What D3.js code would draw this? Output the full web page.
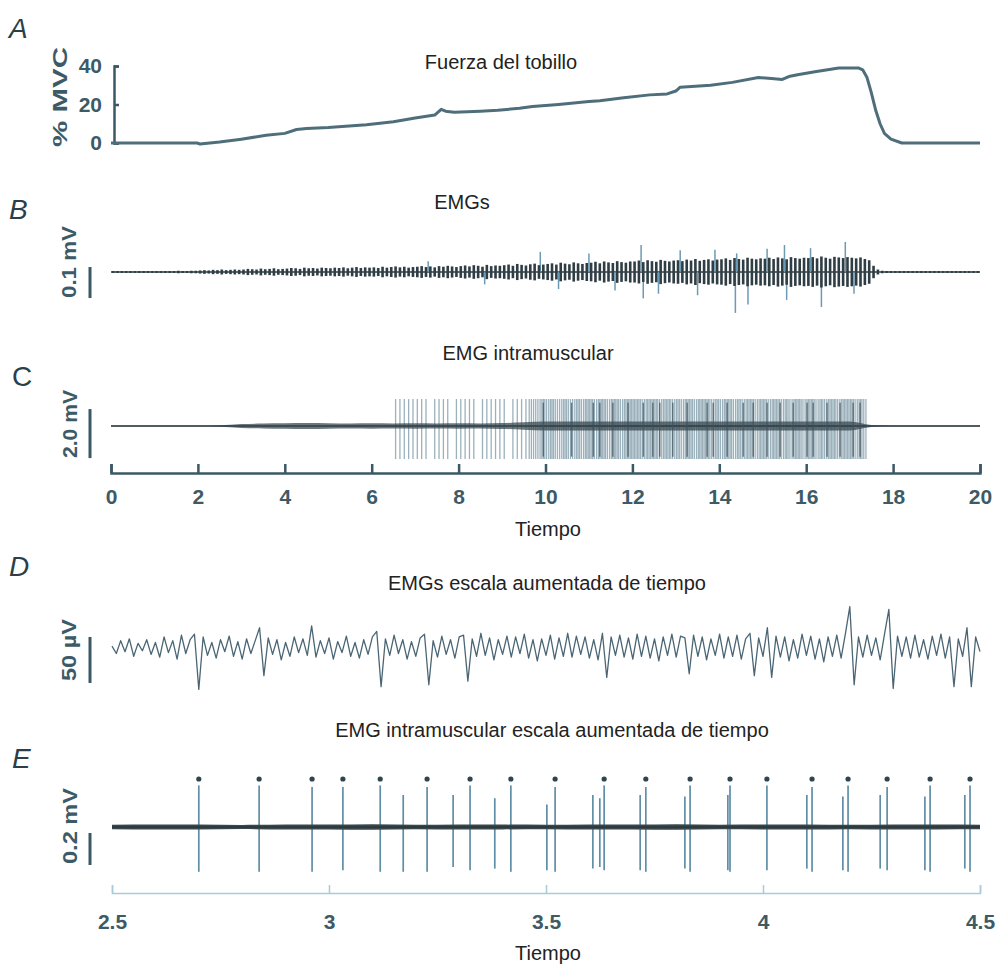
<!DOCTYPE html>
<html>
<head>
<meta charset="utf-8">
<script src="https://cdn.jsdelivr.net/npm/d3@7"></script>
<style>
	body { margin: 0; background: #fff; }
	svg { display: block; font-family: "Liberation Sans", Arial, Helvetica, sans-serif; }
</style>
</head>
<body>
<svg id="chart" width="1002" height="966"></svg>
<script>

/***************************************************************************
 *
 * DATA
 *
 **************************************************************************/

// A - ankle force, % MVC
var forceTime = [0, 1.98, 2.05, 2.5, 3.0, 3.57, 4.0, 4.27, 4.5, 5.0, 5.88, 6.5, 7.0, 7.45, 7.6, 7.7, 7.9, 8.5, 8.9, 9.4,
	9.7, 10.3, 11.0, 11.25, 11.8, 12.4, 12.8, 13.0, 13.1, 13.8, 14.3, 14.9, 15.2, 15.45, 15.6, 15.8, 16.2, 16.75, 17.2, 17.3,
	17.4, 17.5, 17.6, 17.7, 17.8, 17.95, 18.2, 20];
var forcePct = [0, 0, -0.5, 0.5, 2, 4, 5, 7, 7.5, 8, 9.5, 11, 13, 14.5, 17.5, 16.5, 16, 16.5, 17, 18,
	19, 20, 21.5, 22, 23.5, 25, 25.5, 27, 29, 30, 31.5, 34, 33.5, 33, 34.5, 35.5, 37, 39, 39, 38,
	34, 26, 17, 10, 5, 2, 0, 0];
var forceTicks = [0, 20, 40];

// B - surface EMG, half amplitude per 0.1 s bin (µV)
var bAmp = [
	3, 3, 3, 3, 3, 3, 3, 3, 3, 3,
	3, 3, 3, 3, 3, 4, 3, 3, 4, 4,
	5, 6, 5, 7, 6, 8, 6, 7, 8, 7,
	8, 10, 9, 8, 11, 9, 10, 12, 9, 10,
	11, 13, 12, 10, 14, 12, 13, 11, 14, 13,
	12, 14, 13, 15, 12, 14, 16, 13, 15, 14,
	15, 13, 17, 14, 16, 18, 15, 17, 14, 16,
	17, 19, 16, 18, 15, 19, 17, 20, 18, 16,
	19, 21, 18, 22, 20, 17, 23, 19, 21, 20,
	22, 24, 20, 26, 23, 21, 25, 27, 22, 24,
	26, 28, 24, 30, 27, 25, 31, 28, 26, 29,
	30, 33, 28, 34, 31, 29, 35, 32, 30, 34,
	34, 37, 32, 38, 35, 33, 39, 36, 34, 37,
	38, 35, 40, 37, 42, 36, 39, 41, 37, 40,
	41, 44, 39, 45, 42, 40, 46, 43, 41, 44,
	43, 46, 42, 47, 44, 41, 48, 45, 43, 46,
	45, 48, 44, 50, 46, 43, 49, 47, 45, 48,
	46, 44, 47, 42, 38, 20, 8, 4, 3, 3,
	3, 3, 3, 3, 3, 3, 3, 3, 3, 3,
	3, 3, 3, 3, 3, 3, 3, 3, 3, 3
];
// B - single large deflections [s, µV]
var bSpikes = [[7.3, 35], [8.6, -40], [9.88, 65], [10.3, -55], [11.0, 60], [11.6, -60], [12.2, 87], [12.25, -85],
	[12.6, -70], [13.1, 70], [13.5, -75], [13.9, 72], [14.37, -132], [14.4, 60], [14.66, -105], [15.1, 75],
	[15.5, 87], [15.55, -90], [16.1, 77], [16.35, -113], [16.9, 97], [17.1, -70]];

// C - intramuscular EMG, large potentials per 0.1 s bin (count)
var cCount = [
	0, 0, 0, 0, 0, 0, 0, 0, 0, 0,
	0, 0, 0, 0, 0, 0, 0, 0, 0, 0,
	0, 0, 0, 0, 0, 0, 0, 0, 0, 0,
	0, 0, 0, 0, 0, 0, 0, 0, 0, 0,
	0, 0, 0, 0, 0, 0, 0, 0, 0, 0,
	0, 0, 0, 0, 0, 0, 0, 0, 0, 0,
	0, 0, 0, 0, 0, 1, 1, 1, 1, 1,
	1, 1, 1, 0, 1, 1, 1, 1, 0, 1,
	1, 1, 1, 1, 0, 1, 1, 1, 1, 1,
	1, 0, 1, 1, 1, 1, 2, 2, 2, 3,
	2, 3, 2, 2, 3, 2, 2, 3, 2, 3,
	3, 2, 3, 3, 2, 3, 3, 2, 3, 3,
	3, 3, 2, 3, 3, 3, 2, 3, 3, 2,
	3, 2, 3, 3, 2, 3, 3, 3, 2, 3,
	2, 3, 3, 2, 3, 2, 3, 3, 2, 3,
	3, 2, 3, 3, 2, 3, 2, 3, 3, 2,
	3, 3, 2, 3, 2, 3, 3, 2, 3, 3,
	3, 2, 3, 2, 0, 0, 0, 0, 0, 0,
	0, 0, 0, 0, 0, 0, 0, 0, 0, 0,
	0, 0, 0, 0, 0, 0, 0, 0, 0, 0
];
var cSpikeRange = [-1.35, 1.1];	// mV, extent of the large potentials
var cDark = [9.95, 10.6, 11.1, 11.25, 11.55, 11.9, 12.25, 12.47, 12.63, 12.93, 13.26, 13.72, 13.86,
	14.18, 14.55, 14.78, 15.1, 15.4, 15.7, 16.02, 16.16, 16.48, 16.78, 17.08, 17.24];
// C - small background activity, half amplitude every 0.5 s from 0 s (mV)
var cSmall = [0.02, 0.02, 0.02, 0.02, 0.02, 0.03, 0.08, 0.10, 0.11, 0.12,
	0.11, 0.10, 0.11, 0.10, 0.11, 0.10, 0.11, 0.10, 0.12, 0.15,
	0.18, 0.18, 0.18, 0.18, 0.18, 0.18, 0.18, 0.18, 0.18, 0.18,
	0.18, 0.18, 0.18, 0.18, 0.18, 0.04, 0.02, 0.02, 0.02, 0.02,
	0.02];
var longTicks = [0, 2, 4, 6, 8, 10, 12, 14, 16, 18, 20];

// D - surface EMG, expanded time, samples every 0.01 s from 2.5 s (µV)
var dWave = [
	2, -6, 8, -4, 10, -9, 5, -3, 9, -7,
	6, -10, 12, -5, 8, -12, 14, -6, 9, 15,
	-45, 12, -8, 6, -11, 9, -4, 13, -9, 7,
	-12, 10, -6, 8, 22, -30, 11, -7, 9, -13,
	6, -9, 12, -5, 10, -8, 24, -10, 8, -6,
	11, -12, 7, -5, 13, -9, 6, -11, 9, -7,
	12, 18, -42, 10, -8, 14, -6, 9, -12, 7,
	-9, 11, 15, -40, 8, -10, 13, -7, 9, -11,
	12, 14, -36, 10, -9, 16, -8, 11, -13, 9,
	-7, 13, -10, 12, -6, 15, -11, 9, -14, 10,
	-8, 14, -12, 11, -9, 16, -10, 13, -7, 12,
	-11, 9, -13, 16, -32, 12, -8, 14, -10, 11,
	-12, 15, -9, 13, -11, 10, -14, 12, -8, 15,
	-10, 13, 11, -28, 14, -9, 12, -13, 10, -8,
	15, -11, 12, -9, 14, -12, 10, 16, -30, 11,
	-9, 22, -32, 13, -10, 12, -14, 9, -11, 15,
	-8, 13, -12, 10, -15, 12, -9, 14, -11, 16,
	45, -40, 12, -10, 14, -8, 11, -13, 15, 42,
	-44, 13, -9, 12, -11, 14, -10, 9, -12, 13,
	-8, 15, -11, 12, -42, 10, -9, 22, -42, 12,
	-4
];

// E - intramuscular EMG, expanded time: marked unit [s, up mV, down mV]
var eUnitMarked = [[2.700, 0.26, -0.28], [2.839, 0.26, -0.28], [2.961, 0.25, -0.28], [3.032, 0.25, -0.27],
	[3.118, 0.26, -0.28], [3.226, 0.25, -0.28], [3.325, 0.26, -0.27], [3.419, 0.26, -0.28], [3.521, 0.25, -0.28],
	[3.634, 0.26, -0.27], [3.730, 0.25, -0.28], [3.832, 0.26, -0.28], [3.924, 0.26, -0.28], [4.009, 0.26, -0.27],
	[4.113, 0.25, -0.28], [4.196, 0.26, -0.28], [4.286, 0.25, -0.27], [4.385, 0.26, -0.28], [4.477, 0.26, -0.28]];
// E - second, unmarked unit
var eUnitOther = [[3.171, 0.20, -0.28], [3.286, 0.20, -0.25], [3.382, 0.18, -0.26], [3.502, 0.14, -0.27],
	[3.608, 0.20, -0.26], [3.624, 0.18, -0.25], [3.717, 0.20, -0.27], [3.820, 0.19, -0.26], [3.919, 0.20, -0.27],
	[4.101, 0.20, -0.26], [4.184, 0.19, -0.27], [4.270, 0.20, -0.26], [4.373, 0.19, -0.27], [4.465, 0.20, -0.26]];
// E - background noise, half amplitude every 0.1 s from 2.5 s (mV)
var eNoise = [0.014, 0.016, 0.015, 0.013, 0.016, 0.015, 0.017, 0.014, 0.016, 0.015,
	0.014, 0.016, 0.015, 0.017, 0.014, 0.015, 0.016, 0.014, 0.016, 0.015, 0.014];
var shortTicks = [2.5, 3, 3.5, 4, 4.5];

/***************************************************************************
 *
 * LAYOUT
 *
 **************************************************************************/

var COLOR_AXIS = "#3b5866";
var COLOR_TEXT = "#3d5a67";
var COLOR_TRACE = "#2f3d44";
var COLOR_LIGHT = "#6d9ab3";

var svg = d3.select("#chart");

var xLong = d3.scaleLinear().domain([0, 20]).range([111, 980]);
var xShort = d3.scaleLinear().domain([2.5, 4.5]).range([112, 980]);

var yForce = d3.scaleLinear().domain([0, 40]).range([143, 66]);
var yB = d3.scaleLinear().domain([-100, 100]).range([272 + 31, 272 - 31]);
var yC = d3.scaleLinear().domain([-2, 2]).range([426 + 49, 426 - 49]);
var yD = d3.scaleLinear().domain([-50, 50]).range([648 + 46, 648 - 46]);
var yE = d3.scaleLinear().domain([-0.2, 0.2]).range([827 + 32, 827 - 32]);

/***************************************************************************
 *
 * DRAWERS
 *
 **************************************************************************/

function drawTexts()
{
	var letters = [
		{text: "A", x: 9, y: 38, italic: true},
		{text: "B", x: 9, y: 219, italic: true},
		{text: "C", x: 12, y: 386, italic: false},
		{text: "D", x: 9, y: 576, italic: true},
		{text: "E", x: 12, y: 768, italic: true}
	];
	svg.selectAll(".letter")
		.data(letters)
		.join("text")
			.attr("class", "letter")
			.attr("x", function(d) { return d.x; })
			.attr("y", function(d) { return d.y; })
			.style("font-size", "28px")
			.style("font-style", function(d) { return d.italic ? "italic" : "normal"; })
			.style("fill", "#2c3f48")
			.text(function(d) { return d.text; });

	var titles = [
		{text: "Fuerza del tobillo", x: 501, y: 69},
		{text: "EMGs", x: 462, y: 209},
		{text: "EMG intramuscular", x: 528, y: 360},
		{text: "Tiempo", x: 548, y: 536},
		{text: "EMGs escala aumentada de tiempo", x: 547, y: 590},
		{text: "EMG intramuscular escala aumentada de tiempo", x: 552, y: 737},
		{text: "Tiempo", x: 548, y: 960}
	];
	svg.selectAll(".title")
		.data(titles)
		.join("text")
			.attr("class", "title")
			.attr("x", function(d) { return d.x; })
			.attr("y", function(d) { return d.y; })
			.attr("text-anchor", "middle")
			.style("font-size", "20px")
			.style("fill", "#222")
			.text(function(d) { return d.text; });

	// rotated units next to the scale bars
	var units = [
		{text: "% MVC", x: 67, y: 97, len: 100},
		{text: "0.1 mV", x: 76, y: 262, len: 72},
		{text: "2.0 mV", x: 77, y: 424, len: 68},
		{text: "50 µV", x: 76, y: 650, len: 62},
		{text: "0.2 mV", x: 77, y: 826, len: 76}
	];
	svg.selectAll(".unit")
		.data(units)
		.join("text")
			.attr("class", "unit")
			.attr("transform", function(d) { return "translate(" + d.x + "," + d.y + ") rotate(-90)"; })
			.attr("text-anchor", "middle")
			.attr("textLength", function(d) { return d.len; })
			.attr("lengthAdjust", "spacingAndGlyphs")
			.style("font-size", "21px")
			.style("font-weight", "bold")
			.style("fill", COLOR_TEXT)
			.text(function(d) { return d.text; });
}

function styleAxis(g, color)
{
	g.select(".domain").attr("stroke", color).attr("stroke-width", 2.5);
	g.selectAll(".tick line").attr("stroke", color).attr("stroke-width", 2.5);
	g.selectAll(".tick text")
		.style("font-size", "21px")
		.style("font-weight", "bold")
		.style("fill", COLOR_TEXT)
		.style("font-family", "\"Liberation Sans\", Arial, sans-serif");
}

function drawScaleBar(scale, from, to)
{
	svg.append("line")
		.attr("x1", 90).attr("x2", 90)
		.attr("y1", scale(from)).attr("y2", scale(to))
		.attr("stroke", COLOR_AXIS)
		.attr("stroke-width", 3);
}

/**
 * A - force trace with its y axis.
 */
function drawForce()
{
	var g = svg.append("g")
		.attr("class", "y axis")
		.attr("transform", "translate(114,0)")
		.call(d3.axisLeft(yForce).tickValues(forceTicks).tickSize(-5).tickSizeOuter(-5).tickPadding(12));
	styleAxis(g, COLOR_AXIS);

	var line = d3.line()
		.x(function(d, i) { return xLong(forceTime[i]); })
		.y(function(d) { return yForce(d); });

	svg.append("path")
		.datum(forcePct)
		.attr("d", line)
		.attr("fill", "none")
		.attr("stroke", "#4f6e7b")
		.attr("stroke-width", 3)
		.attr("stroke-linejoin", "round");
}

/**
 * B - surface EMG over the whole contraction.
 */
function drawSurfaceEmg()
{
	drawScaleBar(yB, -84, 16);

	svg.append("line")
		.attr("x1", xLong(0)).attr("x2", xLong(20))
		.attr("y1", yB(0)).attr("y2", yB(0))
		.attr("stroke", COLOR_TRACE).attr("stroke-width", 1.5);

	svg.append("g").selectAll("line")
		.data(bSpikes)
		.join("line")
			.attr("x1", function(d) { return xLong(d[0]); })
			.attr("x2", function(d) { return xLong(d[0]); })
			.attr("y1", yB(0))
			.attr("y2", function(d) { return yB(d[1]); })
			.attr("stroke", COLOR_LIGHT)
			.attr("stroke-width", 1.5);

	svg.append("g").selectAll("line")
		.data(bAmp)
		.join("line")
			.attr("x1", function(d, i) { return xLong(i * 0.1 + 0.05); })
			.attr("x2", function(d, i) { return xLong(i * 0.1 + 0.05); })
			.attr("y1", function(d) { return yB(-d); })
			.attr("y2", function(d) { return yB(d); })
			.attr("stroke", COLOR_TRACE)
			.attr("stroke-width", 2.6);
}

/**
 * C - intramuscular EMG over the whole contraction, with time axis.
 */
function drawIntramuscularEmg()
{
	drawScaleBar(yC, -1.31, 0.69);

	// spread the counted potentials over each bin
	var times = [];
	cCount.forEach(function(n, i)
	{
		for(var k = 0; k < n; k++)
			times.push(i * 0.1 + (k + 0.5) * 0.1 / n);
	});

	svg.append("g").selectAll("line")
		.data(times)
		.join("line")
			.attr("x1", function(d) { return xLong(d); })
			.attr("x2", function(d) { return xLong(d); })
			.attr("y1", yC(cSpikeRange[0]))
			.attr("y2", yC(cSpikeRange[1]))
			.attr("stroke", "#8aa3b0")
			.attr("stroke-opacity", 0.85)
			.attr("stroke-width", 1.3);

	var area = d3.area()
		.curve(d3.curveMonotoneX)
		.x(function(d, i) { return xLong(i * 0.5); })
		.y0(function(d) { return yC(-d); })
		.y1(function(d) { return yC(d); });

	svg.append("path")
		.datum(cSmall)
		.attr("d", area)
		.attr("fill", "#3a4a52")
		.attr("fill-opacity", 0.75);

	svg.append("line")
		.attr("x1", xLong(0)).attr("x2", xLong(20))
		.attr("y1", yC(0)).attr("y2", yC(0))
		.attr("stroke", COLOR_TRACE).attr("stroke-width", 1.3);

	svg.append("g").selectAll("line")
		.data(cDark)
		.join("line")
			.attr("x1", function(d) { return xLong(d); })
			.attr("x2", function(d) { return xLong(d); })
			.attr("y1", yC(cSpikeRange[0] + 0.1))
			.attr("y2", yC(cSpikeRange[1] - 0.15))
			.attr("stroke", "#3e505a")
			.attr("stroke-opacity", 0.75)
			.attr("stroke-width", 1.4);

	var g = svg.append("g")
		.attr("class", "x axis")
		.attr("transform", "translate(0,473)")
		.call(d3.axisBottom(xLong).tickValues(longTicks).tickSize(-9).tickSizeOuter(-9).tickPadding(16));
	styleAxis(g, COLOR_AXIS);
}

/**
 * D - surface EMG, expanded time.
 */
function drawSurfaceDetail()
{
	drawScaleBar(yD, -38, 12);

	var line = d3.line()
		.x(function(d, i) { return xShort(2.5 + i * 0.01); })
		.y(function(d) { return yD(d); });

	svg.append("path")
		.datum(dWave)
		.attr("d", line)
		.attr("fill", "none")
		.attr("stroke", "#4a6674")
		.attr("stroke-width", 1.3)
		.attr("stroke-linejoin", "round");
}

/**
 * E - intramuscular EMG, expanded time, with the marked unit.
 */
function drawIntramuscularDetail()
{
	drawScaleBar(yE, -0.2375, -0.0375);

	var spikes = eUnitOther.concat(eUnitMarked);
	svg.append("g").selectAll("line")
		.data(spikes)
		.join("line")
			.attr("x1", function(d) { return xShort(d[0]); })
			.attr("x2", function(d) { return xShort(d[0]); })
			.attr("y1", function(d) { return yE(d[2]); })
			.attr("y2", function(d) { return yE(d[1]); })
			.attr("stroke", "#5f8ea6")
			.attr("stroke-width", 1.7);

	var area = d3.area()
		.curve(d3.curveMonotoneX)
		.x(function(d, i) { return xShort(2.5 + i * 0.1); })
		.y0(function(d) { return yE(-d); })
		.y1(function(d) { return yE(d); });

	svg.append("path")
		.datum(eNoise)
		.attr("d", area)
		.attr("fill", "#3a474d");

	svg.append("line")
		.attr("x1", xShort(2.5)).attr("x2", xShort(4.5))
		.attr("y1", yE(0)).attr("y2", yE(0))
		.attr("stroke", "#2a363c").attr("stroke-width", 1.5);

	svg.append("g").selectAll("circle")
		.data(eUnitMarked)
		.join("circle")
			.attr("cx", function(d) { return xShort(d[0]); })
			.attr("cy", yE(0.3))
			.attr("r", 2.6)
			.attr("fill", "#2e4450");

	var g = svg.append("g")
		.attr("class", "x axis")
		.attr("transform", "translate(0,893)")
		.call(d3.axisBottom(xShort).tickValues(shortTicks).tickFormat(d3.format("")).tickSize(-8).tickSizeOuter(-8).tickPadding(21));
	styleAxis(g, "#a9cad8");
	g.select(".domain").attr("stroke-width", 1.5);
	g.selectAll(".tick line").attr("stroke-width", 1.5);
}

drawTexts();
drawForce();
drawSurfaceEmg();
drawIntramuscularEmg();
drawSurfaceDetail();
drawIntramuscularDetail();

</script>
</body>
</html>
